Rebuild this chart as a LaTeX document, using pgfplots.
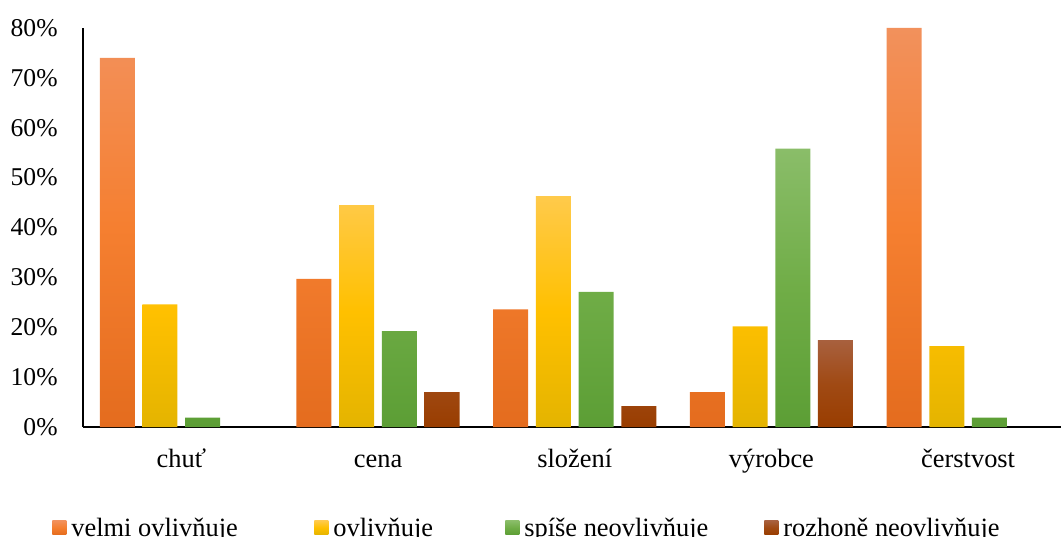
\documentclass[border=0pt]{standalone}
\usepackage{fontspec}
\setmainfont{Liberation Serif}
\usepackage{pgfplots}
\pgfplotsset{compat=1.18}
\definecolor{oT}{RGB}{242,145,92}
\definecolor{oM}{RGB}{245,127,48}
\definecolor{oB}{RGB}{228,108,30}
\definecolor{yT}{RGB}{255,202,75}
\definecolor{yM}{RGB}{255,192,0}
\definecolor{yB}{RGB}{228,180,0}
\definecolor{gT}{RGB}{138,189,105}
\definecolor{gM}{RGB}{112,173,71}
\definecolor{gB}{RGB}{92,158,53}
\definecolor{bT}{RGB}{168,96,62}
\definecolor{bM}{RGB}{160,74,20}
\definecolor{bB}{RGB}{153,61,0}
\begin{document}
\begin{tikzpicture}
\begin{axis}[
  scale only axis,
  width=491.75pt, height=199.5pt,
  xmin=-0.5, xmax=4.5, ymin=0, ymax=80,
  axis lines*=left,
  axis line style={black, line width=0.8pt},
  major tick length=0pt,
  ybar=3.85pt, bar width=17.5pt,
  xtick={0,1,2,3,4},
  xticklabels={chuť,cena,složení,výrobce,čerstvost},
  xticklabel style={anchor=base, yshift=-20pt, font=\fontsize{13.2}{16}\selectfont},
  ytick={0,10,...,80},
  yticklabels={0\%,10\%,20\%,30\%,40\%,50\%,60\%,70\%,80\%},
  yticklabel style={anchor=east, inner sep=0pt, xshift=-12.5pt, font=\fontsize{12.8}{15}\selectfont},
  legend columns=4,
  legend style={at={(rel axis cs:0,0)}, anchor=west, xshift=-15.5pt, yshift=-51pt,
    draw=none, inner sep=0pt, column sep=2.5pt,
    nodes={inner sep=0pt, anchor=base west}, font=\fontsize{13.2}{16}\selectfont},
  legend image code/.code={\path[#1, draw=none] (0pt,1pt) rectangle (7pt,8pt);},
]
\addplot[draw=none, top color=oT, bottom color=oB, middle color=oM] coordinates {(0,74) (1,29.7) (2,23.6) (3,7) (4,80)};
\addlegendentry{\makebox[119pt][l]{velmi ovlivňuje}}
\addplot[draw=none, top color=yT, bottom color=yB, middle color=yM] coordinates {(0,24.6) (1,44.5) (2,46.3) (3,20.2) (4,16.2)};
\addlegendentry{\makebox[83.5pt][l]{ovlivňuje}}
\addplot[draw=none, top color=gT, bottom color=gB, middle color=gM] coordinates {(0,1.9) (1,19.2) (2,27.1) (3,55.8) (4,1.9)};
\addlegendentry{\makebox[117.5pt][l]{spíše neovlivňuje}}
\addplot[draw=none, top color=bT, bottom color=bB, middle color=bM] coordinates {(1,7) (2,4.2) (3,17.4)};
\addlegendentry{rozhoně neovlivňuje}
\end{axis}
\pgfresetboundingbox
\useasboundingbox (-41.5pt,-54.5pt) rectangle (489pt,213.5pt);
\end{tikzpicture}
\end{document}
